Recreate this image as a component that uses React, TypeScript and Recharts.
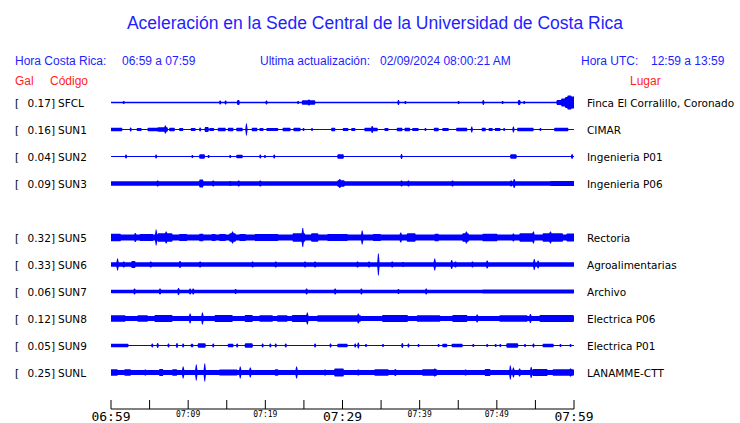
import React from "react";
import { ComposedChart, Area, XAxis, YAxis } from "recharts";

// ---- data ----
const codes = ["SFCL", "SUN1", "SUN2", "SUN3", null, "SUN5", "SUN6", "SUN7", "SUN8", "SUN9", "SUNL"];
const peakGal = [0.17, 0.16, 0.04, 0.09, null, 0.32, 0.33, 0.06, 0.12, 0.05, 0.25];
const places = [
  "Finca El Corralillo, Coronado",
  "CIMAR",
  "Ingenieria P01",
  "Ingenieria P06",
  null,
  "Rectoria",
  "Agroalimentarias",
  "Archivo",
  "Electrica P06",
  "Electrica P01",
  "LANAMME-CTT",
];
// background noise half-amplitude per trace (relative units)
const baseAmp: Record<string, number> = {
  SFCL: 0.75, SUN1: 0.6, SUN2: 0.6, SUN3: 2.2, SUN5: 3.0, SUN6: 2.3, SUN7: 1.8, SUN8: 2.5, SUN9: 0.6, SUNL: 2.5,
};
// bursts: [start minute, end minute, half-amplitude]
const bursts: Record<string, number[][]> = {
  SFCL: [[1.6,1.6,1.5],[14.1,14.1,2],[14.8,14.8,2],[16.4,16.6,2.5],[20.1,20.1,2],[24.2,24.2,1.5],[24.8,26.4,2.2],[25.6,25.6,3],[37.2,37.2,2.5],[38.1,38.1,1.5],[45.0,45.0,1.5],[48.2,48.2,2.5],[50.7,50.7,1.5],[52.8,53.0,2.5],[53.5,53.5,1.5],[57.8,58.4,2.5],[58.4,58.9,4],[58.9,59.2,5.5],[59.2,59.6,7],[59.6,60,6]],
  SUN1: [[0,1.4,1.8],[2.5,2.5,2],[3.4,3.9,1.5],[4.8,6.0,1.8],[6.1,7.3,2.2],[7.0,7.0,4],[7.6,8.2,1.8],[8.9,9.3,1.5],[10.4,10.9,1.5],[11.5,11.5,2],[12.2,12.6,2.5],[12.8,13.3,1.5],[13.9,14.8,1.8],[15.2,15.8,1.8],[16.3,17.0,1.8],[17.5,17.5,6],[18.3,18.9,1.8],[19.3,19.7,1.5],[20.2,21.6,1.5],[22.3,23.2,1.8],[23.7,24.5,1.8],[24.9,24.9,1.5],[26.0,26.0,1.5],[28.6,29.0,1.8],[30.1,30.7,1.5],[31.2,31.6,1.5],[32.9,34.5,1.8],[33.8,33.8,3.5],[35.5,35.9,1.5],[37.1,37.7,1.8],[38.1,38.7,1.8],[39.1,39.8,1.5],[40.7,40.7,1.5],[41.9,42.4,1.8],[43.0,43.7,1.5],[44.8,46.1,1.8],[46.7,46.7,3],[48.1,48.5,1.8],[49.0,49.4,1.5],[49.8,50.4,1.5],[50.9,50.9,1.5],[52.1,52.1,3],[52.7,54.7,1.8],[55.6,55.6,1.5],[57.5,59.2,1.8]],
  SUN2: [[1.9,1.9,2],[5.8,5.8,2],[10.5,10.5,1.5],[11.5,12.1,2.2],[12.6,12.6,1.5],[15.4,15.4,1.5],[16.3,17.0,1.8],[19.3,19.3,2],[19.9,19.9,1.5],[21.1,21.1,2],[29.4,30.1,2.2],[37.6,37.6,2.5],[51.8,52.5,2.2],[59.7,59.7,2.5]],
  SUN3: [[6.0,6.0,3],[11.5,11.9,4],[13.2,13.2,3],[15.4,15.4,2.5],[16.5,16.5,3],[19.3,19.3,3],[29.4,30.2,3.2],[29.6,29.6,4.5],[37.6,37.6,3],[38.5,38.5,3],[44.2,44.2,3],[51.8,51.8,3],[52.2,52.2,4.5],[57.0,60,2.5]],
  SUN5: [[0,1.2,3.8],[3.1,3.1,4.5],[3.8,5.4,3.6],[5.8,5.8,8],[6.1,7.9,4.2],[7.1,7.1,6],[8.9,9.8,3.6],[11.5,11.9,3.8],[13.1,13.5,3.6],[14.1,14.8,3.6],[15.4,16.1,4.2],[15.7,15.7,6],[16.7,17.4,3.6],[18.7,21.6,3.6],[23.6,25.1,4.2],[24.8,24.8,9.5],[26.0,26.8,4.2],[28.1,30.6,3.6],[32.5,32.5,7],[34.0,34.9,3.6],[37.5,37.5,5],[38.4,39.4,4.2],[42.0,42.4,3.8],[45.6,46.3,4.2],[46.0,46.0,6],[48.2,50.0,3.8],[52.1,52.1,4],[53.0,54.7,4.2],[54.7,54.7,6],[56.0,58.5,4.2],[56.9,56.9,6],[59.1,60,4]],
  SUN6: [[0.8,0.8,6],[1.6,1.6,3],[2.7,3.1,3.5],[5.1,5.1,3],[8.9,8.9,3.5],[11.5,11.5,3],[18.3,18.3,3],[21.3,21.3,3],[25.1,25.1,3],[26.4,26.4,3],[31.9,31.9,3],[33.4,33.4,3],[34.6,34.6,11],[36.4,36.4,3],[37.8,37.8,2.5],[41.9,41.9,6],[44.1,44.1,4.5],[44.6,44.6,3],[46.8,46.8,3],[48.7,48.7,4],[54.8,54.8,5.5],[55.3,55.3,4]],
  SUN7: [[3.0,3.0,3],[6.3,6.3,3],[8.7,8.7,3.5],[10.2,10.2,3],[10.6,10.6,3],[16.1,16.1,2.5],[25.3,25.3,3],[29.0,29.0,3],[32.4,32.4,3],[37.2,37.2,2.5],[40.8,40.8,3],[48.2,59.9,2.1]],
  SUN8: [[0,1.8,3.2],[3.5,4.7,3.2],[5.7,7.9,3.4],[10.2,10.2,5],[11.8,11.8,6],[13.5,15.7,3.4],[17.4,18.3,3.4],[19.3,20.9,3.2],[21.6,22.8,3.2],[23.5,25.5,3.4],[25.4,25.4,6],[26.8,30.3,3.2],[29.7,32.3,3.2],[32.0,32.0,5],[35.2,38.4,3.4],[39.7,42.6,3.2],[44.3,46.1,3.4],[47.4,47.4,4],[50.4,53.9,3.2],[54.3,54.3,4.5],[55.6,59.9,3.4]],
  SUN9: [[0,2.2,1.8],[5.3,5.3,2],[6.0,6.0,2.5],[7.4,7.4,2],[8.5,8.5,2.5],[9.3,9.3,2],[10.4,10.6,1.8],[11.3,12.2,2.2],[13.2,13.2,2],[15.2,15.8,1.8],[16.3,16.3,2],[17.4,18.3,2.2],[19.6,19.6,2],[20.6,20.6,2],[21.3,21.3,2],[22.6,22.6,2],[26.4,26.4,2],[28.4,28.4,2],[29.4,30.6,1.8],[31.6,31.6,2],[32.0,32.0,3],[33.0,33.0,1.5],[35.2,35.2,1.5],[37.7,37.7,2.5],[38.5,38.5,2],[39.8,39.8,1.5],[42.4,42.4,1.5],[43.0,43.5,1.8],[44.2,45.5,1.8],[46.9,46.9,1.5],[48.7,48.7,1.5],[49.8,49.8,1.5],[50.4,50.4,1.5],[51.3,52.7,2.2],[53.6,53.6,1.5],[54.7,54.7,2],[56.0,57.3,1.8],[58.2,58.2,1.5],[59.5,59.5,1.5]],
  SUNL: [[0,0.8,3.3],[1.8,2.5,3.3],[4.4,4.4,3],[6.3,6.7,3.6],[8.0,8.5,3.3],[9.3,9.3,6],[11.0,11.0,8],[12.1,12.1,9],[14.1,16.3,3.0],[16.7,16.7,6],[18.0,18.0,5],[21.3,21.6,3.3],[24.0,24.0,6],[27.7,27.7,3],[29.0,30.1,4],[32.0,32.0,3],[34.2,35.9,3.2],[36.8,36.8,3.5],[40.4,42.2,3.2],[41.9,41.9,4],[45.9,45.9,3],[48.5,49.1,3.6],[51.7,51.7,7],[52.1,52.1,5],[52.9,52.9,4],[54.4,54.4,5.5],[54.7,56.5,3.5],[57.3,59.9,3.2],[59.5,59.5,4]],
};
const tickMinutes = [0, 5, 10, 15, 20, 25, 30, 35, 40, 45, 50, 55, 60];
const tickLabels: Record<number, string> = { 0: "06:59", 10: "07:09", 20: "07:19", 30: "07:29", 40: "07:39", 50: "07:49", 60: "07:59" };
const majorTicks = [0, 30, 60];

// ---- layout / style ----
const W = 740, H = 423;
const TOP = 88, XAXIS_H = 14;
const ROW_PX = 27;
const PLOT_H = H - TOP - XAXIS_H;
const AMP_UNIT = 1 / ROW_PX;
const NROWS = codes.length;
const yHi = NROWS - 1 + 14.5 / ROW_PX;
const yLo = yHi - PLOT_H / ROW_PX;
const BLUE = "#0000ff";
const HBLUE = "#1e1eff";
const HRED = "#ff1e1e";

const centerOf = (i: number) => NROWS - 1 - i;

const data: any[] = [];
for (let s = 0; s <= 600; s++) {
  const t = s / 10;
  const row: any = { t };
  codes.forEach((c, i) => {
    if (!c) return;
    let a = baseAmp[c];
    for (const ev of bursts[c]) {
      const hiEdge = ev[0] === ev[1] ? ev[1] + 0.15 : ev[1] + 0.05;
      if (t >= ev[0] - 0.05 && t <= hiEdge) a = Math.max(a, ev[2]);
    }
    const ctr = centerOf(i);
    row[c] = [ctr - a * AMP_UNIT, ctr + a * AMP_UNIT];
  });
  data.push(row);
}

const rowTicks = codes.map((c, i) => (c ? centerOf(i) : null)).filter((v) => v !== null) as number[];

const YTick = (props: any) => {
  const { y, payload } = props;
  const i = NROWS - 1 - Math.round(payload.value);
  const f = { fontFamily: "DejaVu Sans", fontSize: 10.5, fill: "#000" };
  return (
    <g>
      <text x={15} y={y + 4} {...f}>[</text>
      <text x={55} y={y + 4} textAnchor="end" {...f}>{`${(peakGal[i] as number).toFixed(2)}]`}</text>
      <text x={58} y={y + 4} {...f}>{codes[i]}</text>
      <text x={587} y={y + 4} {...f}>{places[i]}</text>
    </g>
  );
};

const XTick = (props: any) => {
  const { x, y, payload } = props;
  const v = payload.value as number;
  const label = tickLabels[v];
  const major = majorTicks.includes(v);
  return (
    <g>
      <line x1={x} x2={x} y1={y - 9} y2={y} stroke="#000" strokeWidth={1} />
      {label && (
        <text
          x={x}
          y={major ? y + 12 : y + 8}
          textAnchor="middle"
          fontFamily="DejaVu Sans Mono"
          fontSize={major ? 13 : 8}
          fill="#000"
        >
          {label}
        </text>
      )}
    </g>
  );
};

export default function App() {
  const hf = { fontFamily: "Liberation Sans", fontSize: 12 };
  return (
    <div style={{ position: "absolute", left: 0, top: 0, width: W, height: H, background: "#fff" }}>
      <ComposedChart width={W} height={H} data={data} margin={{ top: TOP, right: W - 574, bottom: 0, left: 0 }}>
        <XAxis
          dataKey="t"
          type="number"
          domain={[0, 60]}
          ticks={tickMinutes}
          interval={0}
          height={XAXIS_H}
          tickLine={false}
          tickSize={0}
          tickMargin={0}
          axisLine={{ stroke: "#000", strokeWidth: 1 }}
          tick={<XTick />}
        />
        <YAxis
          yAxisId="l"
          type="number"
          domain={[yLo, yHi]}
          allowDataOverflow
          ticks={rowTicks}
          interval={0}
          width={111}
          axisLine={false}
          tickLine={false}
          tick={<YTick />}
        />
        {codes.map((c) =>
          c ? (
            <Area
              key={c}
              yAxisId="l"
              dataKey={c}
              type="linear"
              stroke="none"
              fill={BLUE}
              fillOpacity={1}
              dot={false}
              activeDot={false}
              isAnimationActive={false}
            />
          ) : null
        )}
      </ComposedChart>
      <svg width={W} height={H} style={{ position: "absolute", left: 0, top: 0, pointerEvents: "none" }}>
        <text x={375} y={29} textAnchor="middle" fontFamily="Liberation Sans" fontSize={17.5} fill={HBLUE}>
          Aceleración en la Sede Central de la Universidad de Costa Rica
        </text>
        <text x={15} y={65} {...hf} fill={HBLUE}>Hora Costa Rica:</text>
        <text x={122} y={65} {...hf} fill={HBLUE}>06:59 a 07:59</text>
        <text x={260} y={65} {...hf} fill={HBLUE}>Ultima actualización:</text>
        <text x={380} y={65} {...hf} fill={HBLUE}>02/09/2024 08:00:21 AM</text>
        <text x={581} y={65} {...hf} fill={HBLUE}>Hora UTC:</text>
        <text x={651} y={65} {...hf} fill={HBLUE}>12:59 a 13:59</text>
        <text x={15} y={85} {...hf} fill={HRED}>Gal</text>
        <text x={50} y={85} {...hf} fill={HRED}>Código</text>
        <text x={630} y={85} {...hf} fill={HRED}>Lugar</text>
      </svg>
    </div>
  );
}
